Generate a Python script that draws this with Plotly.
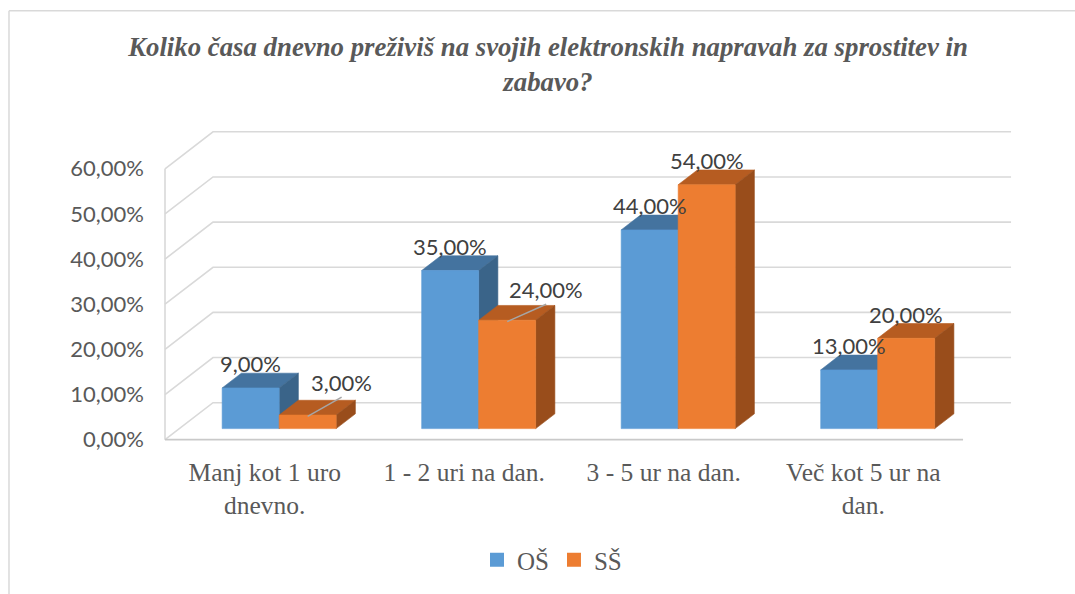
import plotly.graph_objects as go

# ---------------- data ----------------
categories = ["Manj kot 1 uro<br>dnevno.", "1 - 2 uri na dan.", "3 - 5 ur na dan.", "Več kot 5 ur na<br>dan."]
series_names = ["OŠ", "SŠ"]
os_values = [9, 35, 44, 13]
ss_values = [3, 24, 54, 20]
y_ticks = [0, 10, 20, 30, 40, 50, 60]
title_text = "Koliko časa dnevno preživiš na svojih elektronskih napravah za sprostitev in<br>zabavo?"

# ---------------- style / geometry ----------------
W, H = 1075, 594
PX_X = 199.5          # px per category unit
PX_Y = 4.517          # px per percentage point
FRONT_LEFT = 165      # px of front-left wall edge
FLOOR = 440           # px of front floor edge
DX = 48 / PX_X        # full depth offset (x units)
DY = 37 / PX_Y        # full depth offset (y units)
X_MIN = -0.5 - 20 / PX_X
X_MAX = 3.5 + DX + 0.1
Y_MIN = -2.5
Y_MAX = 60 + DY + 1.5
ML = FRONT_LEFT - 20
PW = (X_MAX - X_MIN) * PX_X
MR = W - ML - PW
MT = FLOOR - Y_MAX * PX_Y
MB = H - (FLOOR - Y_MIN * PX_Y)

BAR_W = 57 / PX_X
OFF = 0.3 * DX
BASE = 0.3 * DY
BDX = 0.4 * DX
BDY = 0.4 * DY

GRID = "#D9D9D9"
FLOOR_COL = "#C9C9C9"
TEXT = "#595959"
LABEL_TEXT = "#404040"
SERIF = "Liberation Serif"
SANS = "Lato"

colors = {
    "OŠ": {"front": "#5B9BD5", "top": "#44739F", "side": "#3A6489"},
    "SŠ": {"front": "#ED7D31", "top": "#B65C21", "side": "#994D1B"},
}
label_offsets = {(1, 0): (34, 33), (1, 1): (39, 31)}  # px offsets for moved labels
DEFAULT_OFFSET = (0, 24)

fig = go.Figure()

# ---------------- walls / gridlines ----------------
gx, gy = [], []
for v in y_ticks:
    gx += [-0.5, -0.5 + DX, 3.5 + DX, None]
    gy += [v, v + DY, v + DY, None]
gx += [-0.5, -0.5, None]
gy += [0, y_ticks[-1], None]
fig.add_trace(go.Scatter(x=gx, y=gy, mode="lines", line=dict(color=GRID, width=1.6),
                         hoverinfo="skip", showlegend=False))
fig.add_trace(go.Scatter(x=[-0.5, 3.5], y=[0, 0], mode="lines", line=dict(color=FLOOR_COL, width=1.8),
                         hoverinfo="skip", showlegend=False))


def poly(xs, ys, col):
    fig.add_trace(go.Scatter(x=xs + [xs[0]], y=ys + [ys[0]], mode="lines", fill="toself",
                             fillcolor=col, line=dict(color=col, width=0.6),
                             hoverinfo="skip", showlegend=False))


annotations = []
leaders_x, leaders_y = [], []
for s, (name, vals) in enumerate(zip(series_names, [os_values, ss_values])):
    c = colors[name]
    for i, v in enumerate(vals):
        x0 = i + OFF - BAR_W if s == 0 else i + OFF
        x1 = x0 + BAR_W
        b = BASE
        t = BASE + v
        poly([x0, x1, x1 + BDX, x0 + BDX], [t, t, t + BDY, t + BDY], c["top"])
        poly([x1, x1 + BDX, x1 + BDX, x1], [b, b + BDY, t + BDY, t], c["side"])
        poly([x0, x1, x1, x0], [b, b, t, t], c["front"])
        cx = (x0 + x1) / 2
        ox, oy = label_offsets.get((s, i), DEFAULT_OFFSET)
        annotations.append(dict(x=cx, y=t, xref="x", yref="y", text=f"{v:.2f}".replace(".", ",") + "%",
                                showarrow=False, xanchor="center", yanchor="middle",
                                xshift=ox, yshift=oy, font=dict(family=SANS, size=22, color=LABEL_TEXT)))
        if (s, i) in label_offsets:
            leaders_x += [cx, cx + ox / PX_X, None]
            leaders_y += [t - 0.3, t + (oy - 15) / PX_Y, None]

fig.add_trace(go.Scatter(x=leaders_x, y=leaders_y, mode="lines", line=dict(color="#A6A6A6", width=1.5),
                         hoverinfo="skip", showlegend=False))

for name in series_names:
    fig.add_trace(go.Scatter(x=[None], y=[None], mode="markers", name=name,
                             marker=dict(symbol="square", size=14, color=colors[name]["front"])))


def px2paper_x(px):
    return (px - ML) / PW


def px2paper_y(py):
    return 1 - (py - MT) / (H - MT - MB)


shapes = [
    dict(type="line", xref="paper", yref="paper", x0=px2paper_x(9), x1=px2paper_x(9),
         y0=px2paper_y(11), y1=px2paper_y(H + 5), line=dict(color=GRID, width=1.5), layer="below"),
    dict(type="line", xref="paper", yref="paper", x0=px2paper_x(9), x1=px2paper_x(W + 5),
         y0=px2paper_y(11), y1=px2paper_y(11), line=dict(color=GRID, width=1.5), layer="below"),
]

fig.update_layout(
    width=W, height=H,
    margin=dict(l=ML, r=MR, t=MT, b=MB, pad=0),
    paper_bgcolor="white", plot_bgcolor="rgba(0,0,0,0)",
    title=dict(text=title_text, x=548 / W, xref="container", xanchor="center",
               y=1 - 56 / H, yref="container", yanchor="top",
               font=dict(family=SERIF, size=26.8, color=TEXT, weight="bold", style="italic")),
    xaxis=dict(range=[X_MIN, X_MAX], tickvals=list(range(len(categories))), ticktext=categories,
               showgrid=False, zeroline=False, showline=False, ticks="", automargin=False,
               ticklabelstandoff=3, tickfont=dict(family=SERIF, size=25.5, color=TEXT), fixedrange=True),
    yaxis=dict(range=[Y_MIN, Y_MAX], tickvals=y_ticks,
               ticktext=[f"{v:.2f}".replace(".", ",") + "%" for v in y_ticks],
               showgrid=False, zeroline=False, showline=False, ticks="", automargin=False,
               tickfont=dict(family=SANS, size=22, color=TEXT), fixedrange=True),
    legend=dict(orientation="h", xref="container", yref="container", x=552 / W, xanchor="center",
                y=1 - 560 / H, yanchor="middle", font=dict(family=SERIF, size=25, color=TEXT),
                itemclick=False, itemdoubleclick=False),
    showlegend=True,
    annotations=annotations,
    shapes=shapes,
)

fig.write_html("out.html", config={"displayModeBar": False},
               post_script="document.body.style.margin='0';")
